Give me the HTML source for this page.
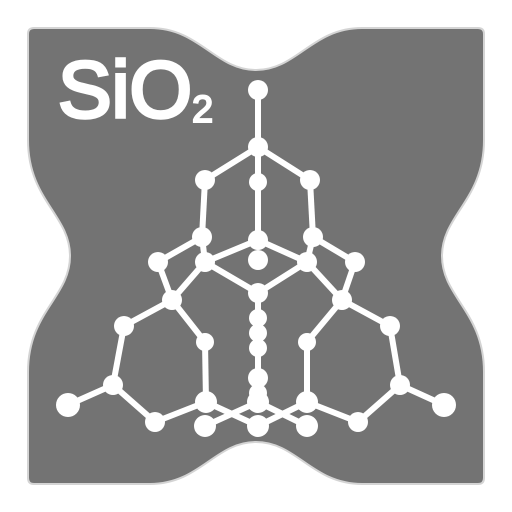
<!DOCTYPE html>
<html><head><meta charset="utf-8"><style>html,body{margin:0;padding:0;background:#fff}svg{display:block}</style></head>
<body>
<svg width="512" height="512" viewBox="0 0 512 512">
<path fill="#737373" stroke="#d4d4d4" stroke-width="2"
 d="M34,28 L150,28 C200,28 215,70 256,70 C297,70 312,28 362,28 L478,28 Q484,28 484,34 L484,140 C484,200 442,215 442,256 C442,297 484,312 484,372 L484,478 Q484,484 478,484 L362,484 C312,484 297,442 256,442 C215,442 200,484 150,484 L34,484 Q28,484 28,478 L28,372 C28,312 70,297 70,256 C70,215 28,200 28,140 L28,34 Q28,28 34,28 Z"/>
<text x="58" y="117" font-family="Liberation Sans, sans-serif" font-size="80" fill="#fff" stroke="#fff" stroke-width="3.5" textLength="134" lengthAdjust="spacingAndGlyphs">SiO</text>
<text x="192" y="122" font-family="Liberation Sans, sans-serif" font-size="38" fill="#fff" stroke="#fff" stroke-width="2">2</text>
<g id="mol"></g>
</svg>
<script>
const nodes=[[258,90,10],[258,147,10],[205,180,10],[258,182,9],[310,180,10],[202,237,10],[258,240,10],[313,237,10],[258,260,10],[158,262,10],[205,262,10],[307,262,10],[355,262,10],[172,300,10],[258,293,10],[342,300,10],[124,326,10],[205,342,9],[307,342,9],[390,326,10],[258,318,9],[258,333,9],[258,348,9],[258,378,10],[258,393,9],[113,385,10],[68,405,12],[400,385,10],[444,405,12],[155,422,10],[206,402,11],[205,426,11],[258,426,11],[307,402,11],[307,426,11],[358,422,10],[258,402,11]];
const edges=[[0,1],[1,2],[1,4],[1,6],[2,5],[4,7],[5,9],[5,10],[7,12],[7,11],[6,10],[6,11],[10,13],[10,14],[11,14],[11,15],[9,13],[12,15],[13,16],[13,17],[15,19],[15,18],[14,36],[16,25],[19,27],[17,30],[18,33],[25,26],[25,29],[29,30],[27,28],[27,35],[35,33],[30,32],[36,31],[36,34],[33,32]];
const g=document.getElementById('mol');
const ns='http://www.w3.org/2000/svg';
edges.forEach(e=>{const a=nodes[e[0]],b=nodes[e[1]];const l=document.createElementNS(ns,'line');
l.setAttribute('x1',a[0]);l.setAttribute('y1',a[1]);l.setAttribute('x2',b[0]);l.setAttribute('y2',b[1]);
l.setAttribute('stroke','#fff');l.setAttribute('stroke-width','6');


g.appendChild(l);});
nodes.forEach(n=>{const c=document.createElementNS(ns,'circle');
c.setAttribute('cx',n[0]);c.setAttribute('cy',n[1]);c.setAttribute('r',n[2]);c.setAttribute('fill','#fff');


g.appendChild(c);});
</script>
</body></html>
